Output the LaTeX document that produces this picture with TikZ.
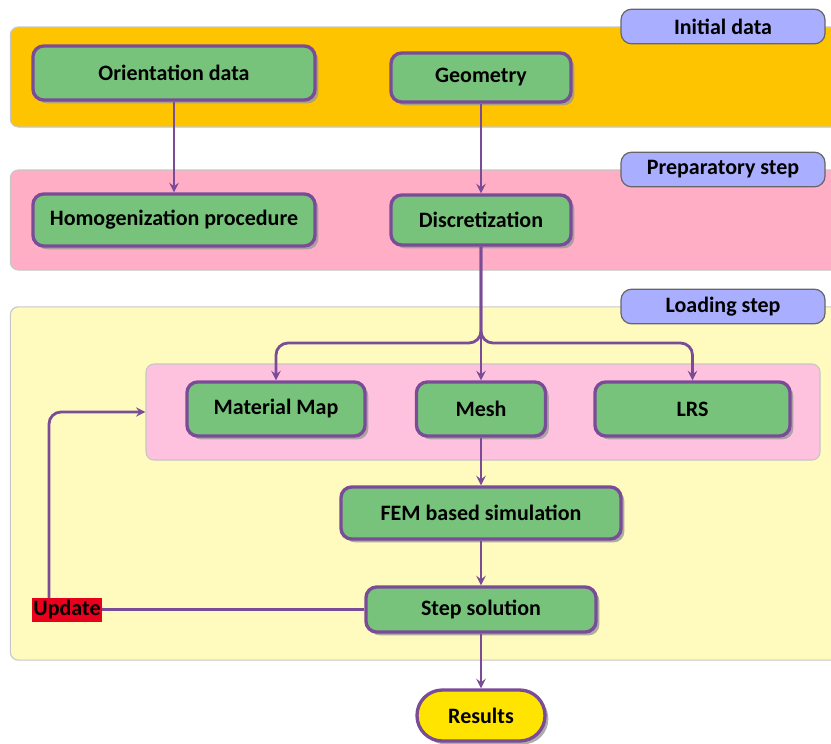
\documentclass[tikz,border=0pt]{standalone}
\usepackage{fontspec}
\setmainfont{Carlito}
\usepackage{tikz}
\usetikzlibrary{arrows,shapes,positioning,calc,shadows}
\definecolor{bandorange}{HTML}{FFC400}
\definecolor{bandpink}{HTML}{FFAEC6}
\definecolor{bandyellow}{HTML}{FFFABE}
\definecolor{innerpink}{HTML}{FFC2DE}
\definecolor{tagblue}{HTML}{AAAEFF}
\definecolor{boxgreen}{HTML}{78C37B}
\definecolor{linepurple}{HTML}{7A4C97}
\definecolor{resyellow}{HTML}{FFE400}
\definecolor{updred}{HTML}{E8001C}
\tikzset{band/.style={draw=gray!45, line width=0.8pt, rounded corners=6pt, minimum height=#1, inner sep=0pt},
	tag/.style={draw=gray!80!black, fill=tagblue, line width=0.9pt, rounded corners=8pt, minimum width=153pt, minimum height=26pt, font=\fontsize{16.5}{19}\selectfont\bfseries},
	stepbox/.style={draw=linepurple, fill=boxgreen, line width=2.5pt, rounded corners=8pt, minimum height=#1, font=\fontsize{16.5}{19}\selectfont\bfseries,
		drop shadow={shadow xshift=2.5pt, shadow yshift=-2.5pt, fill=black!40, opacity=0.8}},
	flow/.style={->, draw=linepurple, line width=2.1pt}}

\begin{document}
\begin{tikzpicture}[x=0.75pt, y=-0.75pt, >=stealth]
\clip (0,0) rectangle (831,743);
% bands
\node[band=75pt, fill=bandorange, minimum width=622pt] (B1) at (425,77) {};
\node[band=75pt, fill=bandpink, minimum width=622pt] (B2) at (425,220) {};
\node[band=265pt, fill=bandyellow, minimum width=622pt] (B3) at (425,483.5) {};
\node[band=72pt, fill=innerpink, minimum width=505.5pt] (inner) at (483,412) {};
\node[tag] (T1) at (723,26.5) {Initial data};
\node[tag] (T2) at (723,169.5) {Preparatory step};
\node[tag] (T3) at (723,306.5) {Loading step};
% boxes
\node[stepbox=40.5pt, minimum width=211.5pt] (ori) at (174,73) {Orientation data};
\node[stepbox=36.75pt, minimum width=135pt] (geo) at (481,77.5) {Geometry};
\node[stepbox=39pt, minimum width=211.5pt] (hom) at (174,220) {Homogenization procedure};
\node[stepbox=37.5pt, minimum width=135pt] (dis) at (481,220) {Discretization};
\node[stepbox=40.5pt, minimum width=133.5pt] (mat) at (276,409) {Material Map};
\node[stepbox=40.5pt, minimum width=96.75pt] (mesh) at (481,409) {Mesh};
\node[stepbox=40.5pt, minimum width=146.25pt] (lrs) at (692.5,409) {LRS};
\node[stepbox=39pt, minimum width=210pt] (fem) at (481,513) {FEM based simulation};
\node[stepbox=33.75pt, minimum width=172.5pt] (sol) at (481,609.5) {Step solution};
\node[stepbox=38.25pt, minimum width=96pt, fill=resyellow, rounded corners=19pt] (res) at (481,715.5) {Results};
\node[fill=updred, inner sep=1pt, minimum width=49.5pt, minimum height=18pt, font=\fontsize{16.5}{19}\selectfont\bfseries] (upd) at (67,609.5) {Update};
\coordinate (branch) at (481,343);
\coordinate (updtop) at (49,598);
% connectors
\draw[flow] (ori) -- (hom);
\draw[flow] (geo) -- (dis);
\draw[flow] (dis) -- (mesh);
\draw[flow, rounded corners=9pt] (dis.south) |- (mat.north |- branch) -- (mat.north);
\draw[flow, rounded corners=9pt] (dis.south) |- (lrs.north |- branch) -- (lrs.north);
\draw[flow] (mesh) -- (fem);
\draw[flow] (fem) -- (sol);
\draw[flow] (sol) -- (res);
\draw[flow, -] (sol.west) -- (upd.east);
\draw[flow, rounded corners=9pt] (updtop) |- (inner.west);
\end{tikzpicture}
\end{document}
